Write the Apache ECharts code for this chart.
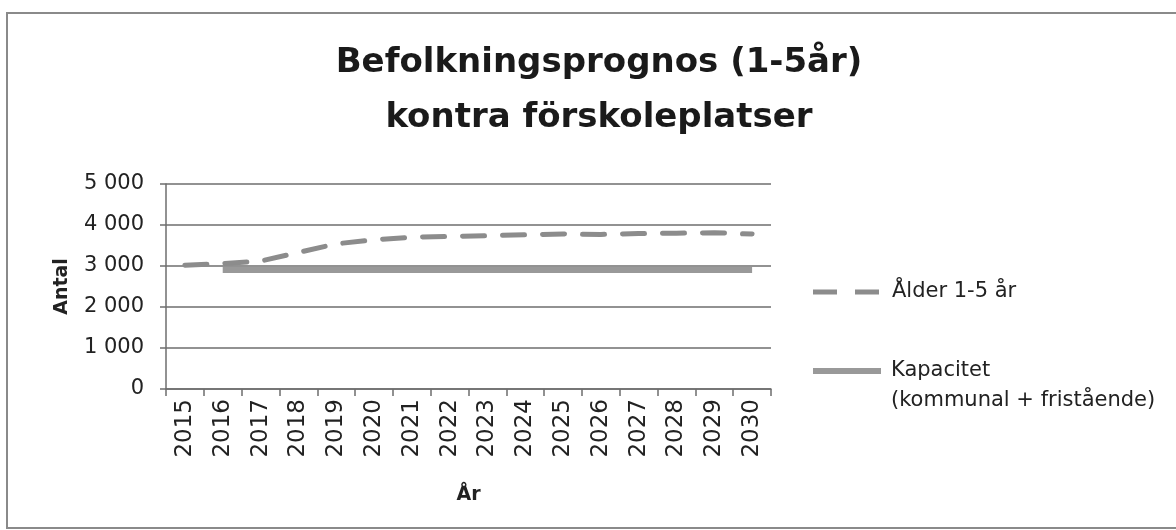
<!DOCTYPE html>
<html>
<head>
<meta charset="utf-8">
<script src="https://cdn.jsdelivr.net/npm/echarts@6/dist/echarts.min.js"></script>
<style>
  html, body { margin: 0; padding: 0; background: #fff; }
  #chart { width: 1176px; height: 530px; }
</style>
</head>
<body>
<div id="chart"></div>
<script>
// years on the x axis
const years = ['2015', '2016', '2017', '2018', '2019', '2020', '2021', '2022',
  '2023', '2024', '2025', '2026', '2027', '2028', '2029', '2030']

// population aged 1-5 (forecast)
const alder = [3020, 3060, 3120, 3330, 3540, 3640, 3700, 3720,
  3740, 3760, 3780, 3770, 3790, 3800, 3810, 3780]

// preschool capacity, no value for 2015
const kapacitet = [null, 2900, 2900, 2900, 2900, 2900, 2900, 2900,
  2900, 2900, 2900, 2900, 2900, 2900, 2900, 2900]

const titleLines = ['Befolkningsprognos (1-5år)', 'kontra förskoleplatser']
const nameAlder = 'Ålder 1-5 år'
const nameKap = 'Kapacitet (kommunal + fristående)'

const FONT = '"DejaVu Sans", sans-serif'
const GRID = '#6e6e6e'
const TEXT = '#222'

const chart = echarts.init(document.getElementById('chart'), null, { renderer: 'canvas' })

const fmt = v => String(v).replace(/\B(?=(\d{3})+(?!\d))/g, ' ')

chart.setOption({
  animation: false,
  backgroundColor: '#fff',
  textStyle: { fontFamily: FONT },
  graphic: [
    {
      type: 'rect',
      shape: { x: 7, y: 13, width: 1185, height: 515 },
      style: { fill: 'none', stroke: '#8a8a8a', lineWidth: 2 },
      silent: true
    },
    {
      type: 'text',
      x: 599,
      y: 91,
      style: {
        text: titleLines.join('\n'),
        font: 'bold 34px ' + FONT,
        fill: '#1a1a1a',
        align: 'center',
        verticalAlign: 'middle',
        lineHeight: 55
      }
    }
  ],
  grid: { left: 166, right: 405, top: 184, bottom: 141 },
  legend: [
    {
      data: [{ name: nameAlder, icon: 'path://M0,0H24V5H0Z M42,0H66V5H42Z' }],
      left: 813,
      top: 277,
      padding: 0,
      itemWidth: 66,
      itemHeight: 5,
      textStyle: { fontSize: 21, color: TEXT, lineHeight: 30, padding: [0, 0, 0, 8], fontFamily: FONT }
    },
    {
      data: [{ name: nameKap, icon: 'rect' }],
      left: 813,
      top: 326,
      padding: 0,
      itemWidth: 68,
      itemHeight: 6,
      formatter: () => '\nKapacitet\n(kommunal + fristående)',
      textStyle: { fontSize: 21, color: TEXT, lineHeight: 30, padding: [0, 0, 0, 5], fontFamily: FONT }
    }
  ],
  xAxis: {
    type: 'category',
    data: years,
    boundaryGap: true,
    name: 'År',
    nameLocation: 'middle',
    nameGap: 97,
    nameTextStyle: { fontSize: 19, fontWeight: 'bold', color: TEXT, fontFamily: FONT },
    axisLine: { lineStyle: { color: GRID, width: 1.5 } },
    axisTick: { show: true, length: 7, alignWithLabel: false, lineStyle: { color: GRID, width: 1.5 } },
    axisLabel: { rotate: 90, margin: 10, fontSize: 23, color: TEXT, interval: 0, fontFamily: FONT }
  },
  yAxis: {
    type: 'value',
    min: 0,
    max: 5000,
    interval: 1000,
    name: 'Antal',
    nameLocation: 'middle',
    nameGap: 94,
    nameRotate: 90,
    nameTextStyle: { fontSize: 19, fontWeight: 'bold', color: TEXT, fontFamily: FONT },
    axisLine: { show: true, lineStyle: { color: GRID, width: 1.5 } },
    axisTick: { show: true, length: 6, lineStyle: { color: GRID, width: 1.5 } },
    axisLabel: { formatter: fmt, fontSize: 21, color: TEXT, margin: 22, fontFamily: FONT },
    splitLine: { show: true, lineStyle: { color: GRID, width: 1.5 } }
  },
  series: [
    {
      name: nameKap,
      type: 'line',
      data: kapacitet,
      symbol: 'none',
      connectNulls: false,
      z: 2,
      lineStyle: { color: '#999999', width: 6, type: 'solid' },
      itemStyle: { color: '#999999' }
    },
    {
      name: nameAlder,
      type: 'line',
      data: alder,
      symbol: 'none',
      z: 3,
      lineStyle: { color: '#8c8c8c', width: 5, type: [22, 18], cap: 'round' },
      itemStyle: { color: '#8c8c8c' }
    }
  ]
})
</script>
</body>
</html>
